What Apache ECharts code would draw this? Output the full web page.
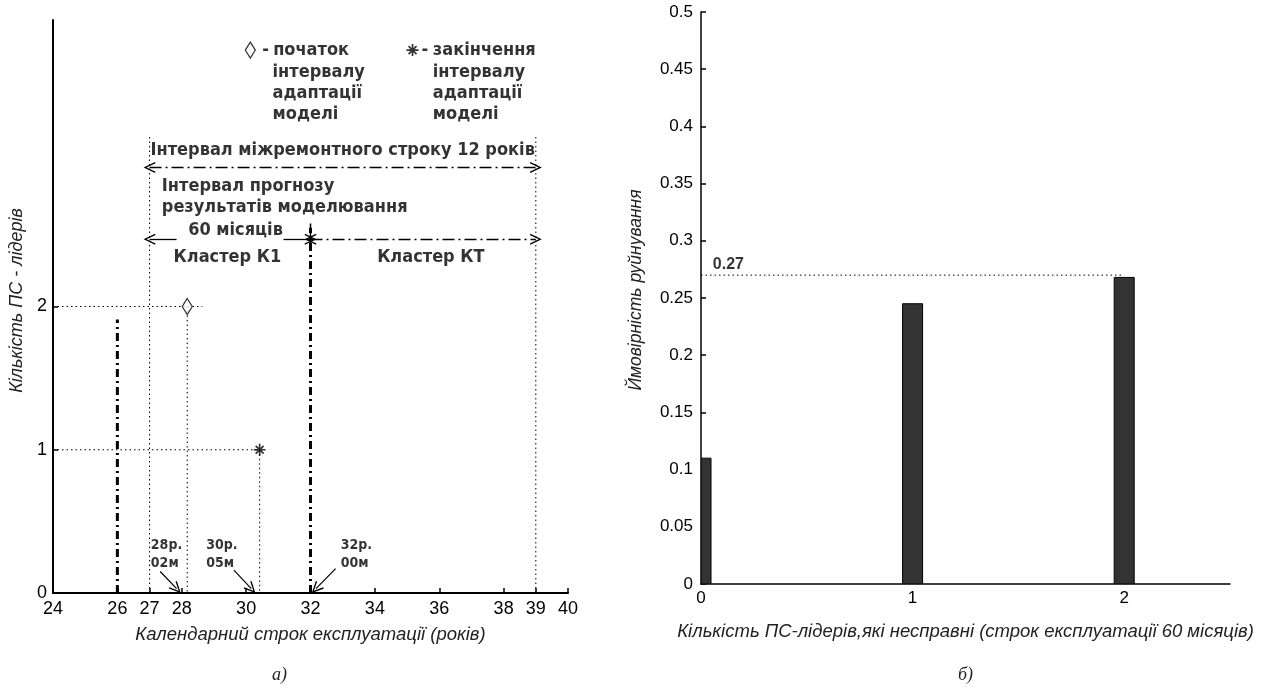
<!DOCTYPE html>
<html><head><meta charset="utf-8">
<script src="https://cdn.jsdelivr.net/npm/echarts@6/dist/echarts.min.js"></script>
<style>html,body{margin:0;padding:0;background:#fff}#c{width:1261px;height:691px}</style>
</head><body><div id="c"></div>
<script>
// ---------- data: left panel (а) ----------
const leftXTicks = [24, 26, 27, 28, 30, 32, 34, 36, 38, 39, 40];
const leftYTicks = [0, 1, 2];
const adaptStart = [28.17, 2];    // 28р. 02м — 2 ПС-лідери
const adaptEnd = [30.42, 1];      // 30р. 05м — 1 ПС-лідер
const line26 = [[26, 0], [26, 1.91]];
const line32 = [[32, 0], [32, 2.55]];
const cross32 = [[32, 2.40], [32, 2.58]];
const overhaulLeft = [[27, 0], [27, 3.2]];
const overhaulRight = [[39, 0], [39, 3.2]];
const hDot2 = [[24, 2], [28.64, 2]];
const vDot2 = [[28.17, 2], [28.17, 0]];
const hDot1 = [[24, 1], [30.42, 1]];
const vDot1 = [[30.42, 1], [30.42, 0]];
const overhaulArrow = [[27, 2.97], [39, 2.97]];
const k1ArrowL = [[27.84, 2.47], [27.0, 2.47]];
const k1ArrowR = [[31.16, 2.47], [32.0, 2.47]];
const ktArrow = [[32.0, 2.47], [39.0, 2.47]];
const pointer28 = [[27.33, 0.15], [27.84, 0.03]];
const pointer30 = [[29.62, 0.16], [30.16, 0.03]];
const pointer32 = [[32.78, 0.17], [32.17, 0.03]];
const legendStart = [30.13, 3.79];
const legendEnd = [35.17, 3.79];
const bigTexts = [
  ['Інтервал міжремонтного строку 12 років', 33.0, 3.09, 'center'],
  ['Інтервал прогнозу', 27.38, 2.84, 'left'],
  ['результатів моделювання', 27.38, 2.69, 'left'],
  ['60 місяців', 29.67, 2.535, 'center'],
  ['Кластер К1', 29.42, 2.34, 'center'],
  ['Кластер КТ', 35.74, 2.34, 'center'],
  ['-', 30.5, 3.79, 'left'],
  ['початок', 30.84, 3.79, 'left'],
  ['інтервалу', 30.82, 3.635, 'left'],
  ['адаптації', 30.82, 3.49, 'left'],
  ['моделі', 30.82, 3.345, 'left'],
  ['-', 35.45, 3.79, 'left'],
  ['закінчення', 35.8, 3.79, 'left'],
  ['інтервалу', 35.8, 3.635, 'left'],
  ['адаптації', 35.8, 3.49, 'left'],
  ['моделі', 35.8, 3.345, 'left']
];
const smallTexts = [
  ['28р.', 27.04, 0.33], ['02м', 27.04, 0.21],
  ['30р.', 28.76, 0.33], ['05м', 28.76, 0.21],
  ['32р.', 32.94, 0.33], ['00м', 32.94, 0.21]
];
const leftXName = 'Календарний строк експлуатації (років)';
const leftYName = 'Кількість ПС - лідерів';

// ---------- data: right panel (б) ----------
const rightXTicks = [0, 1, 2];
const rightCats = [0, 1, 2];
const rightVals = [0.11, 0.245, 0.268];
const threshold = 0.27;
const thresholdLine = [[0, threshold], [2, threshold]];
const thresholdLabel = ['0.27', 0.056, 0.279];
const rightXName = 'Кількість ПС-лідерів,які несправні (строк експлуатації 60 місяців)';
const rightYName = 'Ймовірність руйнування';

// ---------- styles ----------
const SANS = "'Liberation Sans', Arial, sans-serif";
const NARROW = "'Liberation Sans Narrow', 'DejaVu Sans Condensed', 'Liberation Sans', sans-serif";
const chevron = 'path://M0,12 L6,0 L12,12 L10.6,12.6 L6,3.2 L1.4,12.6 Z';
const asterisk = 'path://M4.3,0h1.4v10h-1.4z M0,4.3h10v1.4h-10z M1.2,2.2l1,-1l6.6,6.6l-1,1z M7.8,1.2l1,1l-6.6,6.6l-1,-1z';

function seg(data, width, dash, xi) {
  return {type: 'line', xAxisIndex: xi || 0, yAxisIndex: xi || 0, data: data, symbol: 'none', silent: true,
    animation: false, z: 3, lineStyle: {color: '#000', width: width, type: dash}};
}
function arrowItem(pts, startSym, endSym, width, dash) {
  const ls = {color: '#000', width: width, type: dash};
  return [
    {coord: pts[0], symbol: startSym, symbolSize: [11, 12], lineStyle: ls},
    {coord: pts[1], symbol: endSym, symbolSize: [11, 12], lineStyle: ls}
  ];
}
const dashDotThick = [8, 4, 2, 4];
const dashDotThin = [12, 4, 2, 4];
const dotted = [1.5, 3];

const chart = echarts.init(document.getElementById('c'), null, {renderer: 'canvas'});

const textItems = bigTexts.map(t => ({
  value: [t[1], t[2]],
  label: {show: true, formatter: t[0], position: [0, 0], align: t[3], verticalAlign: 'middle',
    fontFamily: NARROW, fontWeight: 'bold', fontSize: 18, color: '#000'}
}));
const smallItems = smallTexts.map(t => ({
  value: [t[1], t[2]],
  label: {show: true, formatter: t[0], position: [0, 0], align: 'left', verticalAlign: 'middle',
    fontFamily: NARROW, fontWeight: 'bold', fontSize: 14, color: '#000'}
}));

function renderBar(params, api) {
  const x = api.value(0), y = api.value(1);
  const base = api.coord([x, 0]);
  const top = api.coord([x, y]);
  const w = 20;
  const cs = params.coordSys;
  const rect = echarts.graphic.clipRectByRect(
    {x: base[0] - w / 2, y: top[1], width: w, height: base[1] - top[1]},
    {x: cs.x, y: cs.y, width: cs.width, height: cs.height});
  return rect && {type: 'rect', shape: rect, style: {fill: '#333', stroke: '#000', lineWidth: 1}};
}

const option = {
  backgroundColor: '#fff',
  animation: false,
  grid: [
    {left: 53, top: 20, width: 515, height: 573, containLabel: false, outerBoundsMode: 'none'},
    {left: 701, top: 12, width: 529, height: 572, containLabel: false, outerBoundsMode: 'none'}
  ],
  xAxis: [
    {type: 'value', gridIndex: 0, min: 24, max: 40, interval: 1,
      axisLine: {show: true, onZero: false, lineStyle: {color: '#000', width: 2}},
      axisTick: {show: true, inside: true, length: 5, customValues: leftXTicks, lineStyle: {color: '#000', width: 1.5}},
      axisLabel: {show: true, customValues: leftXTicks, margin: 7, fontFamily: SANS, fontSize: 18, color: '#000'},
      splitLine: {show: false},
      name: leftXName, nameLocation: 'middle', nameGap: 32,
      nameTextStyle: {fontFamily: SANS, fontStyle: 'italic', fontSize: 18.5, color: '#222'}},
    {type: 'value', gridIndex: 1, min: 0, max: 2.5, interval: 0.5,
      axisLine: {show: true, onZero: false, lineStyle: {color: '#000', width: 1.5}},
      axisTick: {show: false},
      axisLabel: {show: true, customValues: rightXTicks, margin: 6, fontFamily: SANS, fontSize: 17, color: '#000'},
      splitLine: {show: false},
      name: rightXName, nameLocation: 'middle', nameGap: 38,
      nameTextStyle: {fontFamily: SANS, fontStyle: 'italic', fontSize: 18.5, color: '#222'}},
  ],
  yAxis: [
    {type: 'value', gridIndex: 0, min: 0, max: 4, interval: 1,
      axisLine: {show: true, onZero: false, lineStyle: {color: '#000', width: 2}},
      axisTick: {show: true, inside: true, length: 5, customValues: leftYTicks, lineStyle: {color: '#000', width: 1.5}},
      axisLabel: {show: true, customValues: leftYTicks, margin: 6, fontFamily: SANS, fontSize: 18, color: '#000'},
      splitLine: {show: false},
      name: leftYName, nameLocation: 'middle', nameGap: 27, nameRotate: 90,
      nameTextStyle: {fontFamily: SANS, fontStyle: 'italic', fontSize: 18, color: '#222', padding: [0, 0, 0, 12]}},
    {type: 'value', gridIndex: 1, min: 0, max: 0.5, interval: 0.05,
      axisLine: {show: true, onZero: false, lineStyle: {color: '#000', width: 1.5}},
      axisTick: {show: true, inside: true, length: 5, lineStyle: {color: '#000', width: 1.5}},
      axisLabel: {show: true, margin: 8, fontFamily: SANS, fontSize: 17, color: '#000',
        formatter: v => String(parseFloat(v.toFixed(2)))},
      splitLine: {show: false},
      name: rightYName, nameLocation: 'middle', nameGap: 56, nameRotate: 90,
      nameTextStyle: {fontFamily: SANS, fontStyle: 'italic', fontSize: 17.5, color: '#222', padding: [0, 0, 0, 16]}}
  ],
  graphic: [
    {type: 'text', left: 272, top: 666, style: {text: 'а)', font: "italic 18px 'Liberation Serif', serif", fill: '#222'}},
    {type: 'text', left: 958, top: 666, style: {text: 'б)', font: "italic 18px 'Liberation Serif', serif", fill: '#222'}}
  ],
  series: [
    seg(hDot2, 1, dotted), seg(vDot2, 1, dotted), seg(hDot1, 1, dotted), seg(vDot1, 1, dotted),
    seg(overhaulRight, 1, dotted),
    Object.assign(seg(overhaulLeft, 1, dotted), {
      markLine: {silent: true, animation: false, symbol: ['none', 'none'], label: {show: false},
        emphasis: {disabled: true},
        data: [
          arrowItem(overhaulArrow, chevron, chevron, 1.3, dashDotThin),
          arrowItem(k1ArrowL, 'none', chevron, 1.3, 'solid'),
          arrowItem(k1ArrowR, 'none', chevron, 1.3, 'solid'),
          arrowItem(ktArrow, chevron, chevron, 1.3, dashDotThin),
          arrowItem(pointer28, 'none', chevron, 1.2, 'solid'),
          arrowItem(pointer30, 'none', chevron, 1.2, 'solid'),
          arrowItem(pointer32, 'none', chevron, 1.2, 'solid')
        ]}
    }),
    seg(line26, 3, dashDotThick), seg(line32, 3, dashDotThick), seg(cross32, 1.5, 'solid'),
    {type: 'scatter', xAxisIndex: 0, yAxisIndex: 0, data: [adaptStart, legendStart], symbol: 'diamond',
      symbolSize: [10, 16], silent: true, z: 5,
      itemStyle: {color: '#fff', borderColor: '#000', borderWidth: 1.3}},
    {type: 'scatter', xAxisIndex: 0, yAxisIndex: 0, data: [adaptEnd, legendEnd], symbol: asterisk,
      symbolSize: 12, silent: true, z: 5, itemStyle: {color: '#000'}},
    {type: 'scatter', xAxisIndex: 0, yAxisIndex: 0, data: textItems.concat(smallItems), symbolSize: 0,
      silent: true, z: 6},
    // right panel
    seg(thresholdLine, 1, dotted, 1),
    {type: 'custom', xAxisIndex: 1, yAxisIndex: 1, data: rightCats.map((c, i) => [c, rightVals[i]]),
      renderItem: renderBar, silent: true, z: 4, clip: true},
    {type: 'scatter', xAxisIndex: 1, yAxisIndex: 1, symbolSize: 0, silent: true, z: 6,
      data: [{value: [thresholdLabel[1], thresholdLabel[2]],
        label: {show: true, formatter: thresholdLabel[0], position: [0, 0], align: 'left', verticalAlign: 'middle',
          fontFamily: SANS, fontWeight: 'bold', fontSize: 16, color: '#000'}}]}
  ]
};
chart.setOption(option);
</script></body></html>
